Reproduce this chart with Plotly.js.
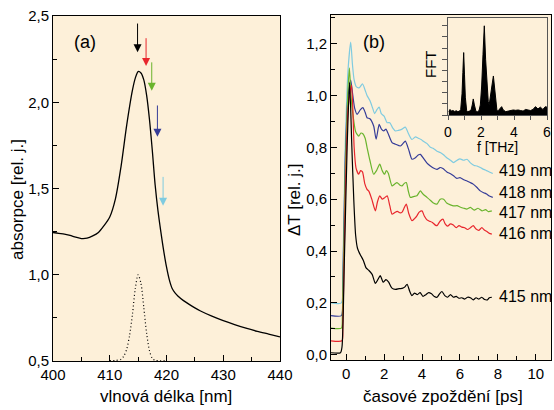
<!DOCTYPE html>
<html><head><meta charset="utf-8">
<script src="https://cdn.plot.ly/plotly-3.0.1.min.js"></script>
<style>html,body{margin:0;padding:0;background:#fff}#g{width:554px;height:410px}</style>
</head><body><div id="g"></div>
<script>
// ---- panel (a): absorption spectrum ----
const wl = [400,401,402,403,404,405,406,407,408,409,410,411,412,413,414,414.5,415,415.5,416,416.5,417,417.5,418,418.5,419,419.5,420,420.5,421,421.5,422,423,424,425,426,428,430,432,434,436,438,440];
const absorb = [1.245,1.24,1.236,1.228,1.218,1.21,1.212,1.225,1.245,1.285,1.335,1.44,1.63,1.87,2.07,2.14,2.178,2.17,2.13,2.04,1.9,1.72,1.52,1.37,1.25,1.14,1.045,0.97,0.92,0.895,0.877,0.85,0.828,0.808,0.79,0.76,0.734,0.711,0.69,0.672,0.656,0.64];
const pulseWl = [410,411,412,412.5,413,413.5,414,414.5,415,415.5,416,416.5,417,417.5,418,419,420];
const pulseVal = [0.502,0.503,0.51,0.53,0.57,0.65,0.77,0.92,1.0,0.95,0.81,0.66,0.56,0.515,0.503,0.502,0.502];
const arrowNm = [414.9,416.4,417.4,418.4,419.4];
const arrowTail = [2.465,2.38,2.24,1.99,1.576];
const arrowHead = [2.29,2.21,2.066,1.80,1.40];
const probeColors = ['#000000','#e8262d','#6ab42d','#353c98','#7fcbe0'];

// ---- panel (b): transient transmission ----
const t415 = [-0.8,-0.3,-0.22,-0.1,0.05,0.18,0.3,0.4,0.5,0.6,0.75,0.9,1.05,1.2,1.37,1.54,1.67,1.8,1.95,2.1,2.24,2.4,2.6,2.8,2.95,3.1,3.21,3.35,3.47,3.6,3.75,3.9,4.05,4.2,4.35,4.5,4.65,4.79,4.92,5.05,5.2,5.35,5.5,5.65,5.8,5.95,6.1,6.25,6.4,6.55,6.7,6.85,7.0,7.15,7.3,7.45,7.55,7.68];
const v415 = [0.008,0.008,0.03,0.35,0.8,1.05,0.8,0.6,0.46,0.41,0.385,0.365,0.335,0.325,0.31,0.275,0.29,0.305,0.28,0.29,0.28,0.258,0.252,0.255,0.256,0.262,0.272,0.245,0.228,0.238,0.232,0.24,0.225,0.232,0.24,0.235,0.225,0.222,0.235,0.244,0.228,0.222,0.232,0.222,0.225,0.218,0.22,0.215,0.222,0.22,0.212,0.22,0.215,0.222,0.213,0.212,0.22,0.222];
const t416 = [-0.8,-0.22,-0.18,-0.05,0.1,0.28,0.35,0.42,0.52,0.66,0.76,0.86,0.98,1.1,1.2,1.35,1.54,1.65,1.77,1.9,2.02,2.16,2.3,2.42,2.55,2.7,2.85,2.95,3.05,3.17,3.3,3.47,3.6,3.72,3.85,4.0,4.12,4.26,4.4,4.55,4.7,4.79,4.95,5.1,5.22,5.35,5.5,5.65,5.8,5.95,6.1,6.25,6.4,6.55,6.7,6.85,7.0,7.15,7.3,7.42,7.55,7.68];
const v416 = [0.054,0.054,0.1,0.6,0.95,1.04,0.95,0.8,0.72,0.696,0.71,0.705,0.66,0.638,0.63,0.6,0.555,0.59,0.613,0.6,0.605,0.613,0.575,0.542,0.548,0.553,0.547,0.55,0.565,0.581,0.545,0.517,0.525,0.535,0.55,0.555,0.535,0.52,0.515,0.51,0.5,0.498,0.515,0.523,0.505,0.496,0.505,0.5,0.49,0.498,0.492,0.49,0.483,0.49,0.498,0.485,0.48,0.49,0.48,0.475,0.468,0.465];
const t417 = [-0.8,-0.25,-0.2,-0.05,0.08,0.17,0.25,0.35,0.5,0.66,0.78,0.88,1.0,1.1,1.25,1.45,1.6,1.77,1.9,2.02,2.12,2.22,2.42,2.55,2.68,2.82,2.95,3.05,3.17,3.28,3.38,3.55,3.73,3.91,4.05,4.26,4.45,4.6,4.79,4.96,5.14,5.3,5.5,5.66,5.85,6.0,6.2,6.37,6.55,6.75,6.95,7.16,7.35,7.5,7.68];
const v417 = [0.103,0.103,0.15,0.7,1.0,1.106,1.0,0.93,0.86,0.843,0.855,0.852,0.835,0.8,0.75,0.696,0.71,0.735,0.71,0.696,0.71,0.7,0.651,0.658,0.664,0.655,0.651,0.66,0.664,0.63,0.607,0.61,0.613,0.632,0.62,0.607,0.595,0.585,0.581,0.6,0.6,0.585,0.578,0.574,0.575,0.57,0.565,0.562,0.568,0.558,0.565,0.555,0.56,0.552,0.555];
const t418 = [-0.8,-0.25,-0.18,-0.05,0.1,0.24,0.35,0.45,0.58,0.75,0.88,1.0,1.1,1.25,1.45,1.58,1.74,1.86,1.98,2.1,2.2,2.42,2.6,2.86,3.0,3.12,3.3,3.47,3.65,3.8,3.91,4.1,4.25,4.44,4.6,4.79,4.95,5.1,5.31,5.5,5.66,5.84,6.0,6.2,6.37,6.54,6.7,6.9,7.07,7.25,7.4,7.55,7.73];
const v418 = [0.151,0.151,0.25,0.75,1.0,1.059,1.0,0.95,0.927,0.945,0.953,0.935,0.914,0.91,0.882,0.831,0.888,0.87,0.863,0.87,0.855,0.818,0.812,0.805,0.815,0.824,0.79,0.754,0.76,0.77,0.773,0.755,0.74,0.728,0.72,0.715,0.722,0.718,0.705,0.698,0.69,0.68,0.683,0.675,0.67,0.664,0.658,0.645,0.632,0.625,0.62,0.612,0.607];
const t419 = [-0.8,-0.25,-0.18,-0.05,0.1,0.24,0.33,0.42,0.54,0.7,0.86,1.0,1.1,1.25,1.4,1.5,1.63,1.74,1.85,2.0,2.16,2.3,2.45,2.6,2.75,2.95,3.12,3.3,3.47,3.65,3.8,3.95,4.09,4.25,4.44,4.6,4.79,4.96,5.15,5.3,5.5,5.66,5.85,6.0,6.2,6.37,6.55,6.75,6.9,7.07,7.25,7.4,7.55,7.73];
const v419 = [0.2,0.2,0.3,0.8,1.1,1.206,1.12,1.06,1.033,1.03,1.045,1.02,1.0,0.98,0.95,0.93,0.946,0.955,0.93,0.92,0.895,0.895,0.875,0.863,0.865,0.87,0.878,0.85,0.83,0.84,0.835,0.83,0.822,0.815,0.8,0.795,0.785,0.78,0.77,0.76,0.75,0.741,0.75,0.755,0.75,0.754,0.74,0.73,0.728,0.722,0.715,0.71,0.705,0.699];
const probeLabels = ['415 nm','416 nm','417 nm','418 nm','419 nm'];
const labelY = [0.224,0.468,0.549,0.626,0.709];

// ---- inset: FFT ----
const freq = [0.05,0.12,0.2,0.3,0.4,0.5,0.6,0.7,0.77,0.85,0.9,0.95,1.0,1.05,1.13,1.2,1.3,1.4,1.47,1.53,1.6,1.7,1.8,1.88,1.96,2.04,2.12,2.2,2.28,2.36,2.44,2.5,2.58,2.66,2.75,2.82,2.9,2.97,3.05,3.15,3.25,3.35,3.5,3.65,3.8,3.95,4.1,4.25,4.4,4.55,4.7,4.85,5.0,5.15,5.3,5.45,5.6,5.75,5.9,6.0];
const fftAmp = [0.3,0.5,0.35,0.4,0.32,0.38,0.3,0.35,0.5,1.9,3.8,5.6,3.6,1.6,0.4,0.3,0.35,0.45,0.9,1.44,0.9,0.3,0.3,0.4,0.9,2.6,5.4,8.0,5.0,2.6,1.2,0.95,1.6,2.6,3.5,2.4,1.0,0.35,0.4,0.6,0.75,0.45,0.3,0.35,0.4,0.45,0.42,0.45,0.4,0.35,0.5,0.45,0.4,0.5,0.75,0.55,0.7,0.5,0.75,0.7];

const FONT = 'Liberation Sans, Arial, sans-serif';
const px = v => v/554, py = v => 1 - v/410;

const traces = [
  {x: wl, y: absorb, xaxis:'x', yaxis:'y', mode:'lines', line:{color:'#000', width:1.3, shape:'spline', smoothing:0.8}},
  {x: pulseWl, y: pulseVal, xaxis:'x', yaxis:'y', mode:'lines', line:{color:'#000', width:1.2, dash:'1px,2.5px', shape:'spline', smoothing:0.8}},
];
const tb = [t415,t416,t417,t418,t419], vb = [v415,v416,v417,v418,v419];
for (let i = 4; i >= 0; i--) {
  traces.push({x: tb[i], y: vb[i], xaxis:'x2', yaxis:'y2', mode:'lines',
    line:{color: probeColors[i], width:1.2, shape:'spline', smoothing:0.6}});
}
traces.push({x: freq, y: fftAmp, xaxis:'x3', yaxis:'y3', mode:'lines', fill:'tozeroy',
  fillcolor:'#000', line:{color:'#000', width:1}});

const ann = [];
for (let i = 0; i < 5; i++) {
  ann.push({xref:'x', yref:'y', axref:'x', ayref:'y', x: arrowNm[i], y: arrowHead[i],
    ax: arrowNm[i], ay: arrowTail[i], text:'', showarrow:true, arrowhead:2, arrowsize:1.6,
    arrowwidth:1, arrowcolor: probeColors[i]});
  ann.push({xref:'x2', yref:'y2', x: 7.95, y: labelY[i], text: probeLabels[i], showarrow:false,
    xanchor:'left', yanchor:'middle', font:{family:FONT, size:16, color:'#000'}});
}
const txt = (s, x, y, size, angle) => ({xref:'paper', yref:'paper', x: px(x), y: py(y), text:s,
  showarrow:false, xanchor:'center', yanchor:'middle', textangle: angle||0, font:{family:FONT, size:size, color:'#000'}});
ann.push(txt('vlnová délka [nm]', 166, 396, 17));
ann.push(txt('časové zpoždění [ps]', 443, 396, 17));
ann.push(txt('absorpce [rel. j.]', 17, 200, 17, -90));
ann.push(txt('ΔT [rel. j.]', 294, 200, 17, -90));
ann.push(txt('(a)', 85, 42, 18));
ann.push(txt('(b)', 374, 42, 18));
ann.push(txt('FFT', 430, 64, 15, -90));
ann.push(txt('f [THz]', 497, 147, 14));

const ax = (o) => Object.assign({showgrid:false, zeroline:false, showline:true, linecolor:'#000', linewidth:1,
  mirror:true, ticks:'inside', ticklen:6, tickcolor:'#000', tickfont:{family:FONT, size:15, color:'#000'}}, o);

const layout = {
  width:554, height:410, margin:{l:0,r:0,t:0,b:0}, paper_bgcolor:'#fff', plot_bgcolor:'#fdf0d9',
  showlegend:false, separators:',.',
  xaxis: ax({domain:[px(53), px(280)], range:[400,440], dtick:10, anchor:'y',
    minor:{dtick:5, ticklen:4, ticks:'inside', tickcolor:'#000'}}),
  yaxis: ax({domain:[py(361), py(16)], range:[0.5,2.5], dtick:0.5, tickformat:'.1f', anchor:'x',
    minor:{dtick:0.25, ticklen:4, ticks:'inside', tickcolor:'#000'}}),
  xaxis2: ax({domain:[px(331), px(551)], range:[-0.8,10.8], dtick:2, anchor:'y2',
    minor:{dtick:1, ticklen:4, ticks:'inside', tickcolor:'#000'}}),
  yaxis2: ax({domain:[py(360), py(15)], range:[-0.02,1.31], dtick:0.2, tickformat:'.1f', anchor:'x2',
    minor:{dtick:0.1, ticklen:4, ticks:'inside', tickcolor:'#000'}}),
  xaxis3: ax({domain:[px(448), px(547)], range:[0,6], dtick:2, anchor:'y3', ticks:'outside', ticklen:4,
    linecolor:'#555', tickcolor:'#555', tickfont:{family:FONT, size:14, color:'#000'},
    minor:{dtick:1, ticklen:4, ticks:'outside', tickcolor:'#555'}}),
  yaxis3: ax({domain:[py(115), py(18)], range:[0,8.7], dtick:1, anchor:'x3', ticks:'outside', ticklen:5,
    showticklabels:false, linecolor:'#555', tickcolor:'#555'}),
  annotations: ann
};
Plotly.newPlot('g', traces, layout, {staticPlot:true, displayModeBar:false});
</script></body></html>
